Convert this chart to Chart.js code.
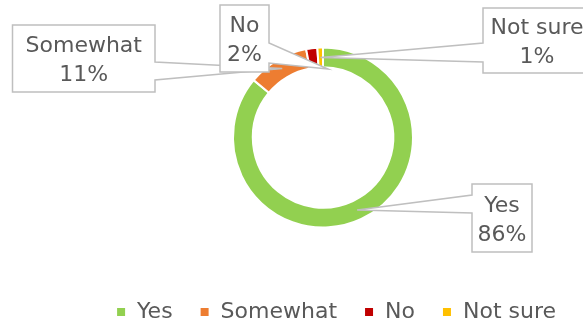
<!DOCTYPE html>
<html>
<head>
<meta charset="utf-8">
<title>Survey doughnut</title>
<script src="https://cdn.jsdelivr.net/npm/chart.js"></script>
<style>
  html, body { margin: 0; padding: 0; background: #ffffff; overflow: hidden; }
  #wrap { width: 583px; height: 326px; overflow: hidden; }
  canvas { display: block; }
</style>
</head>
<body>
<div id="wrap">
  <canvas id="myChart" width="583" height="333"></canvas>
</div>
<script>
// Donnees du graphique
var answerLabels = ["Yes", "Somewhat", "No", "Not sure"];
var answerShares = [86, 11, 2, 1];
var answerColors = ["#92D050", "#ED7D31", "#C00000", "#FFC000"];

// Position des bulles d'etiquettes, relative au centre de l'anneau
// side = cote de la bulle d'ou part la pointe, w1/w2 = debut/fin de la pointe sur ce cote
var calloutBoxes = [
  { dx: 149, dy: 46.5, w: 60, h: 68, side: "left", w1: 11, w2: 29 },
  { dx: -310.5, dy: -112.5, w: 142.5, h: 67, side: "right", w1: 37, w2: 55 },
  { dx: -103, dy: -132.5, w: 49, h: 67, side: "right", w1: 38, w2: 58, tip: [5, -68.5] },
  { dx: 160, dy: -129.5, w: 108, h: 65, side: "left", w1: 35, w2: 54 }
];

var textColor = "#595959";
var fontFamily = "'DejaVu Sans', sans-serif";

// Dessine les bulles avec pointe vers chaque segment
var calloutPlugin = {
  id: "callouts",
  afterDatasetsDraw: function (chart) {
    var ctx = chart.ctx;
    var meta = chart.getDatasetMeta(0);
    var cx = meta.data[0].x;
    var cy = meta.data[0].y;

    meta.data.forEach(function (arc, i) {
      var box = calloutBoxes[i];
      var left = cx + box.dx, top = cy + box.dy;
      var right = left + box.w, bottom = top + box.h;
      var tip = arc.tooltipPosition();
      if (box.tip) {
        tip = { x: cx + box.tip[0], y: cy + box.tip[1] };
      }

      ctx.save();
      ctx.beginPath();
      ctx.moveTo(left, top);
      ctx.lineTo(right, top);
      if (box.side === "right") {
        ctx.lineTo(right, top + box.w1);
        ctx.lineTo(tip.x, tip.y);
        ctx.lineTo(right, top + box.w2);
      }
      ctx.lineTo(right, bottom);
      ctx.lineTo(left, bottom);
      if (box.side === "left") {
        ctx.lineTo(left, top + box.w2);
        ctx.lineTo(tip.x, tip.y);
        ctx.lineTo(left, top + box.w1);
      }
      ctx.closePath();
      ctx.fillStyle = "#ffffff";
      ctx.fill();
      ctx.lineWidth = 1.5;
      ctx.strokeStyle = "#BFBFBF";
      ctx.lineJoin = "miter";
      ctx.stroke();

      // texte sur deux lignes
      ctx.fillStyle = textColor;
      ctx.font = "22px " + fontFamily;
      ctx.textAlign = "center";
      ctx.textBaseline = "alphabetic";
      var mid = (left + right) / 2;
      var midY = (top + bottom) / 2;
      ctx.fillText(answerLabels[i], mid, midY - 6.5);
      ctx.fillText(answerShares[i] + "%", mid, midY + 22.5);
      ctx.restore();
    });
  }
};

var ctx = document.getElementById("myChart").getContext("2d");
var surveyChart = new Chart(ctx, {
  type: "doughnut",
  data: {
    labels: answerLabels,
    datasets: [{
      data: answerShares,
      backgroundColor: answerColors,
      borderColor: "#ffffff",
      borderWidth: 2
    }]
  },
  options: {
    responsive: false,
    animation: false,
    radius: 90,
    cutout: "78%",
    layout: {
      padding: { left: 63, right: 0, top: 1, bottom: 0 }
    },
    plugins: {
      legend: {
        position: "bottom",
        align: "end",
        labels: {
          color: textColor,
          font: { family: fontFamily, size: 22 },
          boxWidth: 10,
          boxHeight: 10,
          padding: 27
        }
      },
      tooltip: { enabled: false }
    }
  },
  plugins: [calloutPlugin]
});
</script>
</body>
</html>
